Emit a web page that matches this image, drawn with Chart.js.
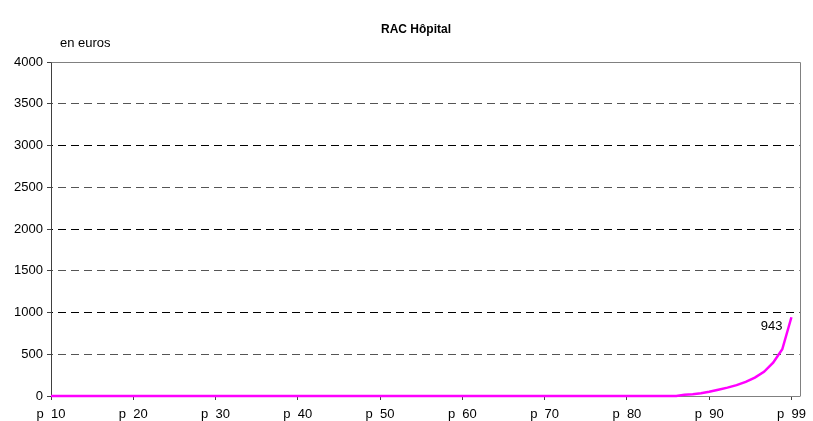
<!DOCTYPE html>
<html>
<head>
<meta charset="utf-8">
<script src="https://cdn.jsdelivr.net/npm/chart.js@4/dist/chart.umd.min.js"></script>
<style>
html,body{margin:0;padding:0;background:#fff;}
#wrap{width:813px;height:421px;position:relative;}
</style>
</head>
<body>
<div id="wrap"><canvas id="c" width="813" height="421"></canvas></div>
<script>
const chartTitle = "RAC Hôpital";
const unitLabel = "en euros";
// percentiles p10 .. p99
const percentiles = [10,11,12,13,14,15,16,17,18,19,20,21,22,23,24,25,26,27,28,29,30,31,32,33,34,35,36,37,38,39,40,41,42,43,44,45,46,47,48,49,50,51,52,53,54,55,56,57,58,59,60,61,62,63,64,65,66,67,68,69,70,71,72,73,74,75,76,77,78,79,80,81,82,83,84,85,86,87,88,89,90,91,92,93,94,95,96,97,98,99];
const racValues = [0,0,0,0,0,0,0,0,0,0,0,0,0,0,0,0,0,0,0,0,0,0,0,0,0,0,0,0,0,0,0,0,0,0,0,0,0,0,0,0,0,0,0,0,0,0,0,0,0,0,0,0,0,0,0,0,0,0,0,0,0,0,0,0,0,0,0,0,0,0,0,0,0,0,0,0,0,15,22,32,50,75,100,130,170,220,290,400,560,943];
const tickPercentiles = [10,20,30,40,50,60,70,80,90,99];
const tickLabels = ["p  10","p  20","p  30","p  40","p  50","p  60","p  70","p  80","p  90","p  99"];
const yTicks = [0,500,1000,1500,2000,2500,3000,3500,4000];
const lastLabel = "943";

// axis position: equal spacing between labelled percentiles
function pos(p){ return p <= 90 ? p - 10 : 80 + (p - 90) * 10 / 9; }

const points = percentiles.map((p,i)=>({x:pos(p), y:racValues[i]}));

const FONT = 'Liberation Sans, Arial, sans-serif';

const decor = {
  id:'decor',
  beforeDraw(chart){
    const ctx = chart.ctx;
    ctx.save();
    ctx.fillStyle = '#fff';
    ctx.fillRect(0,0,chart.width,chart.height);
    ctx.restore();
  },
  beforeDatasetsDraw(chart){
    const ctx = chart.ctx, a = chart.chartArea;
    ctx.save();
    ctx.strokeStyle = '#808080';
    ctx.lineWidth = 1;
    ctx.setLineDash([]);
    ctx.beginPath();
    ctx.moveTo(Math.round(a.left)+0.5, Math.round(a.top)+0.5);
    ctx.lineTo(Math.round(a.right)+0.5, Math.round(a.top)+0.5);
    ctx.lineTo(Math.round(a.right)+0.5, Math.round(a.bottom)+0.5);
    ctx.stroke();
    ctx.restore();
  },
  afterDraw(chart){
    const ctx = chart.ctx;
    ctx.save();
    ctx.fillStyle = '#000';
    ctx.font = 'bold 12px ' + FONT;
    ctx.textAlign = 'center';
    ctx.textBaseline = 'middle';
    ctx.fillText(chartTitle, 416, 30);
    ctx.font = '13px ' + FONT;
    ctx.textAlign = 'left';
    ctx.fillText(unitLabel, 60, 43);
    const meta = chart.getDatasetMeta(0);
    const last = meta.data[meta.data.length-1];
    ctx.textAlign = 'right';
    ctx.textBaseline = 'middle';
    ctx.font = '13px ' + FONT;
    ctx.fillText(lastLabel, last.x - 9, last.y + 9);
    ctx.restore();
  }
};

new Chart(document.getElementById('c'), {
  type:'line',
  data:{ datasets:[{
    data: points,
    borderColor:'#FF00FF',
    borderWidth:2.5,
    pointRadius:0,
    tension:0,
    fill:false,
    clip:6
  }]},
  options:{
    responsive:false,
    animation:false,
    events:[],
    layout:{padding:{top:62, right:11, left:0, bottom:0}},
    plugins:{legend:{display:false}, title:{display:false}, tooltip:{enabled:false}},
    scales:{
      x:{
        type:'linear',
        min:0, max:91,
        afterBuildTicks(axis){ axis.ticks = tickPercentiles.map(p=>({value:pos(p)})); },
        afterFit(axis){ axis.height = 25; },
        ticks:{
          autoSkip:false, maxRotation:0, padding:7,
          color:'#000', font:{family:FONT, size:13},
          callback(v){ const i = tickPercentiles.findIndex(p=>Math.abs(pos(p)-v)<1e-6); return i>=0 ? tickLabels[i] : ''; }
        },
        grid:{drawOnChartArea:false, drawTicks:true, tickLength:4, color:'#404040'},
        border:{color:'#808080', width:1}
      },
      y:{
        type:'linear',
        min:0, max:4000,
        afterBuildTicks(axis){ axis.ticks = yTicks.map(v=>({value:v})); },
        afterFit(axis){ axis.width = 51; },
        ticks:{padding:4, color:'#000', font:{family:FONT, size:13}, callback(v){ return String(v); }},
        grid:{
          drawTicks:true, tickLength:4,
          color(c){ return (c.tick && (c.tick.value===0 || c.tick.value===4000)) ? 'rgba(0,0,0,0)' : (c.tick && c.tick.value % 1000 === 0 ? '#000' : '#555'); },
          tickColor:'#404040',
          lineWidth:1
        },
        border:{color:'#404040', width:1, dash:[8,5], dashOffset:-6}
      }
    }
  },
  plugins:[decor]
});
</script>
</body>
</html>
